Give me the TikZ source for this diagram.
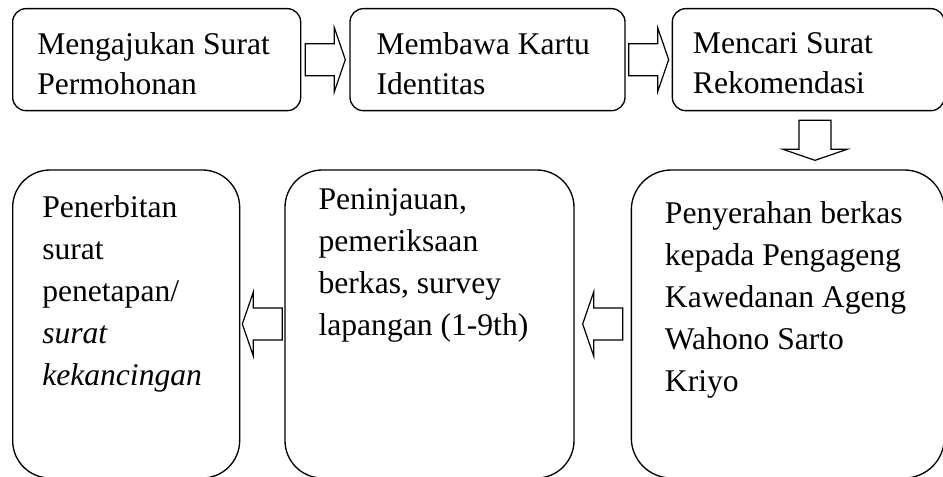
\documentclass[tikz,border=0pt]{standalone}
\usepackage{fontspec}
\setmainfont{Liberation Serif}
\usepackage{tikz}
\usetikzlibrary{positioning, calc}
\tikzstyle{stepbox} = [rectangle, rounded corners=10pt, draw=black,
    line width=1pt, minimum height=76.5pt]
\tikzstyle{bigbox}  = [stepbox, rounded corners=28pt, minimum height=231pt]
\tikzstyle{toptext} = [anchor=north west, align=left, inner sep=0pt,
    font=\fontsize{23.7}{30}\selectfont]
\tikzstyle{bottext} = [toptext, font=\fontsize{23.7}{31.5}\selectfont]
\tikzset{blockarrow/.pic={
    \draw[line width=0.9pt, fill=white] (-15pt,-12pt) -- (6.75pt,-12pt)
      -- (6.75pt,-24pt) -- (15pt,0pt) -- (6.75pt,24pt) -- (6.75pt,12pt)
      -- (-15pt,12pt) -- cycle;}}

\begin{document}
\begin{tikzpicture}
  \useasboundingbox (0,0) rectangle (707.25pt,-357.75pt);
  \node[stepbox, anchor=north west, minimum width=216pt,
    label={[toptext, xshift=18.75pt, yshift=-18.3pt]north west:{Mengajukan Surat\\Permohonan}}]
    (ajukan) at (9pt,-6pt) {};
  \node[stepbox, right=36pt of ajukan, minimum width=206.25pt,
    label={[toptext, xshift=20.25pt, yshift=-18.3pt]north west:{Membawa Kartu\\Identitas}}]
    (kartu) {};
  \node[stepbox, right=34.5pt of kartu, minimum width=204pt,
    label={[toptext, xshift=15.75pt, yshift=-18.3pt]north west:{Mencari Surat\\Rekomendasi}}]
    (rekom) {};
  \node[bigbox, rounded corners=30pt, below=43.5pt of rekom.south east, anchor=north east,
    minimum width=234.75pt,
    label={[bottext, xshift=25.5pt, yshift=-24.3pt]north west:{Penyerahan berkas\\kepada Pengageng\\Kawedanan Ageng\\Wahono Sarto\\Kriyo}}]
    (serah) {};
  \node[bigbox, left=42pt of serah, minimum width=216.75pt,
    label={[bottext, xshift=25.5pt, yshift=-14.6pt]north west:{Peninjauan,\\pemeriksaan\\berkas, survey\\lapangan (1-9th)}}]
    (tinjau) {};
  \node[bigbox, left=33pt of tinjau, minimum width=170.25pt,
    label={[bottext, xshift=22.5pt, yshift=-19.8pt]north west:{Penerbitan\\surat\\penetapan/\\\textit{surat}\\\textit{kekancingan}}}]
    (terbit) {};

  % block arrows
  \pic at ($(ajukan.east)!0.5!(kartu.west)$) {blockarrow};
  \pic at ($(kartu.east)!0.5!(rekom.west)$) {blockarrow};
  \pic[rotate=-90] at ($(rekom.south)!0.5!(rekom.south |- serah.north)+(5pt,0)$) {blockarrow};
  \pic[rotate=180] at ($(serah.west)!0.5!(tinjau.east)$) {blockarrow};
  \pic[rotate=180] at ($(tinjau.west)!0.5!(terbit.east)$) {blockarrow};
\end{tikzpicture}
\end{document}
